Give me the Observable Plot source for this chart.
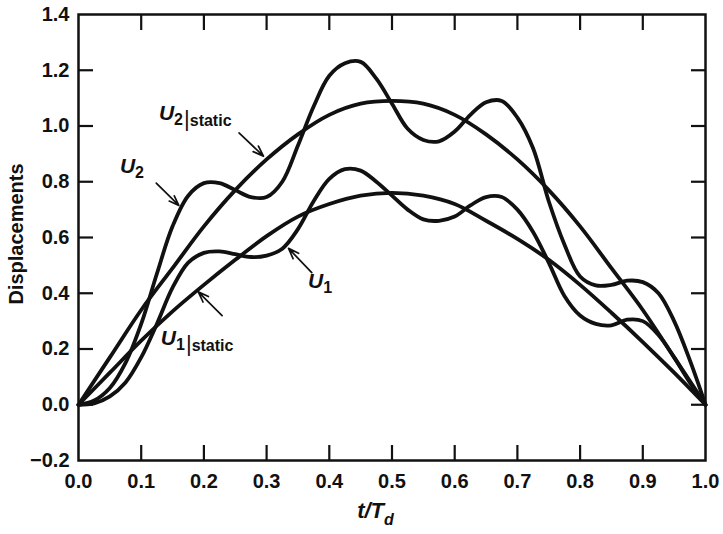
<!DOCTYPE html>
<html><head><meta charset="utf-8">
<script src="https://cdn.jsdelivr.net/npm/d3@7"></script>
<script src="https://cdn.jsdelivr.net/npm/@observablehq/plot@0.6"></script>
<style>body{margin:0;background:#fff} svg{display:block}</style>
</head><body><div id="chart"></div>
<script>
// time grid (t/Td) for the dynamic responses
const tDyn = [0,0.025,0.05,0.075,0.1,0.125,0.15,0.175,0.2,0.225,0.25,0.275,0.3,0.325,0.35,0.375,0.4,0.425,0.45,0.475,0.5,0.525,0.55,0.575,0.6,0.625,0.65,0.675,0.7,0.725,0.75,0.775,0.8,0.825,0.85,0.875,0.9,0.925,0.95,0.975,1];
const u2 = [0,0.015,0.06,0.15,0.29,0.47,0.64,0.75,0.795,0.795,0.77,0.745,0.745,0.80,0.93,1.07,1.18,1.225,1.23,1.17,1.08,0.99,0.95,0.945,0.98,1.04,1.085,1.09,1.03,0.92,0.73,0.575,0.46,0.428,0.43,0.445,0.44,0.40,0.30,0.16,0];
const u1 = [0,0.005,0.03,0.08,0.17,0.29,0.42,0.51,0.545,0.55,0.54,0.53,0.535,0.56,0.63,0.73,0.81,0.845,0.84,0.80,0.75,0.70,0.665,0.66,0.675,0.715,0.745,0.745,0.70,0.62,0.51,0.39,0.32,0.29,0.285,0.305,0.30,0.25,0.17,0.08,0];
// time grid for the static responses
const tStat = [0,0.05,0.1,0.15,0.2,0.25,0.3,0.35,0.4,0.45,0.5,0.55,0.6,0.65,0.7,0.75,0.8,0.85,0.9,0.95,1];
const u2Static = [0,0.17,0.34,0.49,0.64,0.77,0.88,0.97,1.04,1.08,1.09,1.08,1.04,0.97,0.88,0.77,0.64,0.49,0.34,0.17,0];
const u1Static = [0,0.115,0.23,0.335,0.43,0.52,0.605,0.675,0.72,0.75,0.76,0.75,0.72,0.66,0.595,0.52,0.43,0.33,0.225,0.115,0];
// axes
const xTicks = [0,0.1,0.2,0.3,0.4,0.5,0.6,0.7,0.8,0.9,1.0];
const yTicks = [-0.2,0,0.2,0.4,0.6,0.8,1.0,1.2,1.4];
const xLabel = "t/T";
const xLabelSub = "d";
const yLabel = "Displacements";
// curve annotations
const labelName = ["U","U","U","U"];
const labelSub = ["2","2","1","1"];
const labelSuffix = ["static","","","static"];
const labelX = [0.187,0.086,0.386,0.19];
const labelY = [1.02,0.83,0.418,0.213];
const arrowX1 = [0.256,0.124,0.372,0.229];
const arrowY1 = [0.975,0.795,0.474,0.32];
const arrowX2 = [0.295,0.16,0.335,0.191];
const arrowY2 = [0.892,0.715,0.561,0.405];

const seriesRows = (name, t, v) => t.map((x, i) => ({series: name, t: x, v: v[i]}));
const lineData = [...seriesRows("U2", tDyn, u2), ...seriesRows("U1", tDyn, u1), ...seriesRows("U2s", tStat, u2Static), ...seriesRows("U1s", tStat, u1Static)];
const arrowData = arrowX1.map((d, i) => ({x1: d, y1: arrowY1[i], x2: arrowX2[i], y2: arrowY2[i]}));
const fmtTick = d => (d < 0 ? "\u2212" : "") + Math.abs(d).toFixed(1);
const innerTicks = a => a.slice(1, -1);

const W = 723, H = 534, ML = 78, MR = 18, MT = 14, MB = 74, TICK = 15;
const ink = "#111";
const fontFam = "'Liberation Sans', Arial, sans-serif";
const tickOpts = {text: null, tickSize: TICK, stroke: ink, strokeWidth: 2.2, label: null};

const plotEl = Plot.plot({
  width: W, height: H,
  marginLeft: ML, marginRight: MR, marginTop: MT, marginBottom: MB,
  x: {domain: [0, 1]},
  y: {domain: [-0.2, 1.4]},
  style: {fontFamily: fontFam, color: ink, background: "#fff"},
  marks: [
    Plot.axisX(xTicks, {anchor: "bottom", tickSize: 0, tickPadding: 13, tickFormat: fmtTick, fontSize: 20, fontWeight: "bold", label: null}),
    Plot.axisY(yTicks, {anchor: "left", tickSize: 0, tickPadding: 9, tickFormat: fmtTick, fontSize: 20, fontWeight: "bold", label: null}),
    // inward ticks on all four sides
    Plot.axisX(innerTicks(xTicks), {anchor: "bottom", dy: -TICK, ...tickOpts}),
    Plot.axisX(innerTicks(xTicks), {anchor: "top", dy: TICK, ...tickOpts}),
    Plot.axisY(innerTicks(yTicks), {anchor: "left", dx: TICK, ...tickOpts}),
    Plot.axisY(innerTicks(yTicks), {anchor: "right", dx: -TICK, ...tickOpts}),
    Plot.frame({strokeWidth: 2.5, stroke: ink}),
    Plot.line(lineData, {x: "t", y: "v", z: "series", stroke: ink, strokeWidth: 3.8, curve: "catmull-rom"}),
    Plot.arrow(arrowData, {x1: "x1", y1: "y1", x2: "x2", y2: "y2", stroke: ink, strokeWidth: 1.7, headLength: 10, headAngle: 40})
  ]
});
document.getElementById("chart").appendChild(plotEl);

const sx = plotEl.scale("x"), sy = plotEl.scale("y");
const root = d3.select(plotEl);
const yb = sy.apply(-0.2), yt = sy.apply(1.4);
const lg = root.append("g").attr("fill", ink).style("font-family", fontFam).attr("font-weight", "bold");
labelName.forEach((name, i) => {
  const t = lg.append("text").attr("x", sx.apply(labelX[i])).attr("y", sy.apply(labelY[i])).attr("font-size", 21);
  t.append("tspan").attr("font-style", "italic").text(name);
  t.append("tspan").attr("font-size", 16).attr("dy", 5).text(labelSub[i]);
  if (labelSuffix[i]) {
    t.append("tspan").attr("font-size", 22).attr("font-weight", "normal").attr("dy", 1).attr("dx", 1).text("|");
    t.append("tspan").attr("font-size", 16).attr("dy", 0).text(labelSuffix[i]);
  }
});
// x axis title
const xt = lg.append("text").attr("x", sx.apply(0.4745)).attr("y", 518).attr("font-size", 22).attr("font-style", "italic");
xt.append("tspan").text(xLabel);
xt.append("tspan").attr("font-size", 16).attr("dy", 7).text(xLabelSub);
// y axis title
lg.append("text").attr("transform", `translate(23,${(yb + yt) / 2 - 3}) rotate(-90)`)
  .attr("text-anchor", "middle").attr("font-size", 20).text(yLabel);
</script>
</body></html>
